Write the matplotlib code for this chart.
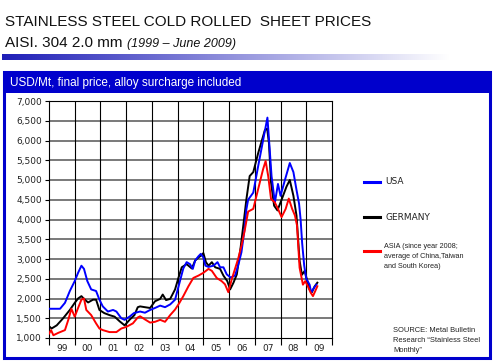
import matplotlib
matplotlib.use("Agg")
import matplotlib.pyplot as plt
import numpy as np
from matplotlib.patches import Rectangle
from matplotlib.lines import Line2D

# ---------------- data ----------------
usa_t = [1999.0, 1999.43, 1999.62, 1999.81, 2000.0, 2000.13, 2000.26, 2000.36, 2000.49, 2000.64,
         2000.83, 2000.96, 2001.09, 2001.29, 2001.49, 2001.62, 2001.81, 2001.94, 2002.13, 2002.3,
         2002.54, 2002.73, 2002.93, 2003.12, 2003.32, 2003.51, 2003.71, 2003.90, 2004.09, 2004.22,
         2004.35, 2004.48, 2004.59, 2004.68, 2004.81, 2004.90, 2005.0, 2005.08, 2005.2, 2005.39,
         2005.55, 2005.65, 2005.78, 2005.91, 2006.06, 2006.23, 2006.35, 2006.48, 2006.6, 2006.67,
         2006.74, 2006.94, 2007.13, 2007.32, 2007.49, 2007.58, 2007.65, 2007.78, 2007.9, 2008.0,
         2008.17, 2008.36, 2008.5, 2008.62, 2008.72, 2008.78, 2008.84, 2008.92, 2009.0, 2009.13,
         2009.19, 2009.3, 2009.39]
usa_v = [1740, 1740, 1890, 2190, 2440, 2650, 2830, 2750, 2440, 2230,
         2190, 1970, 1800, 1670, 1710, 1670, 1500, 1460, 1540, 1630,
         1670, 1640, 1710, 1760, 1820, 1780, 1850, 1970, 2440, 2760,
         2920, 2870, 2750, 2960, 3070, 3130, 3040, 2830, 2800, 2830,
         2920, 2790, 2790, 2610, 2530, 2580, 2830, 3170, 3750, 4250,
         4500, 4680, 5350, 6000, 6580, 5760, 5100, 4430, 4900, 4600,
         5000, 5430, 5200, 4750, 4400, 4000, 3400, 2830, 2500, 2350,
         2150, 2270, 2350]

ger_t = [1999.0, 1999.1, 1999.3, 1999.55, 1999.81, 2000.0, 2000.13, 2000.26, 2000.39, 2000.52,
         2000.71, 2000.83, 2000.96, 2001.15, 2001.35, 2001.55, 2001.75, 2001.94, 2002.13, 2002.32,
         2002.45, 2002.54, 2002.73, 2002.93, 2003.12, 2003.32, 2003.42, 2003.55, 2003.71, 2003.90,
         2004.03, 2004.16, 2004.35, 2004.55, 2004.68, 2004.81, 2004.94, 2005.0, 2005.1, 2005.2,
         2005.33, 2005.46, 2005.65, 2005.78, 2005.93, 2006.04, 2006.17, 2006.3, 2006.45, 2006.58,
         2006.67, 2006.8, 2006.94, 2007.13, 2007.39, 2007.48, 2007.55, 2007.63, 2007.75, 2007.88,
         2008.04, 2008.23, 2008.36, 2008.5, 2008.62, 2008.74, 2008.83, 2008.94, 2009.04, 2009.13,
         2009.22, 2009.32, 2009.43]
ger_v = [1300, 1240, 1320, 1500, 1710, 1890, 2000, 2060, 1970, 1900,
         1970, 1970, 1710, 1630, 1580, 1540, 1420, 1320, 1460, 1580,
         1780, 1800, 1780, 1760, 1930, 1990, 2100, 1960, 1990, 2230,
         2520, 2790, 2870, 2760, 2960, 3040, 3100, 3150, 2920, 2830,
         2920, 2790, 2750, 2580, 2440, 2230, 2400, 2610, 3300, 4000,
         4500, 5100, 5200, 5680, 6260, 6300, 5930, 4940, 4350, 4230,
         4500, 4830, 5000, 4600, 4100, 2960, 2600, 2700, 2440, 2230,
         2160, 2300, 2400]

asia_t = [1999.0, 1999.08, 1999.17, 1999.36, 1999.62, 1999.75, 1999.87, 2000.0, 2000.13, 2000.26,
          2000.36, 2000.45, 2000.64, 2000.83, 2000.96, 2001.09, 2001.35, 2001.62, 2001.81, 2002.0,
          2002.26, 2002.45, 2002.54, 2002.73, 2002.93, 2003.12, 2003.32, 2003.51, 2003.71, 2003.90,
          2004.07, 2004.22, 2004.42, 2004.61, 2004.81, 2005.0, 2005.2, 2005.33, 2005.52, 2005.71,
          2005.84, 2005.97, 2006.1, 2006.23, 2006.35, 2006.48, 2006.6, 2006.74, 2006.94, 2007.13,
          2007.32, 2007.42, 2007.52, 2007.63, 2007.78, 2007.9, 2008.04, 2008.2, 2008.32, 2008.45,
          2008.56, 2008.64, 2008.74, 2008.87, 2008.96, 2009.06, 2009.17, 2009.26, 2009.35, 2009.43]
asia_v = [1110, 1200, 1070, 1130, 1200, 1460, 1740, 1540, 1760, 1970,
          2000, 1710, 1580, 1370, 1240, 1200, 1150, 1150, 1240, 1280,
          1370, 1520, 1550, 1470, 1390, 1410, 1460, 1410, 1580, 1720,
          1890, 2060, 2310, 2520, 2580, 2650, 2750, 2700, 2520, 2440,
          2360, 2160, 2480, 2750, 3000, 3330, 3700, 4200, 4270, 4770,
          5270, 5480, 5100, 4520, 4430, 4270, 4060, 4270, 4530, 4270,
          4100, 3850, 2780, 2350, 2440, 2310, 2150, 2060, 2190, 2310]

year_labels = ['99', '00', '01', '02', '03', '04', '05', '06', '07', '08', '09']
y_ticks = list(range(1000, 7001, 500))

title1 = "STAINLESS STEEL COLD ROLLED  SHEET PRICES"
title2a = "AISI. 304 2.0 mm"
title2b = "(1999 \u2013 June 2009)"
header = "USD/Mt, final price, alloy surcharge included"

BLUE = '#0000CC'
W, H = 500, 363

fig = plt.figure(figsize=(W / 100, H / 100), dpi=100)
fig.patch.set_facecolor('white')

# background / decoration axes in pixel coordinates
bg = fig.add_axes([0, 0, 1, 1], zorder=0)
bg.set_xlim(0, W)
bg.set_ylim(H, 0)
bg.axis('off')

# gradient bar
grad = np.linspace(0, 1, 256)
c0 = np.array([0.12, 0.12, 0.72])
c1 = np.array([1.0, 1.0, 1.0])
img = c0[None, :] * (1 - grad[:, None]) + c1[None, :] * grad[:, None]
bg.imshow(img[None, :, :], extent=(2, 450, 60, 54), aspect='auto', interpolation='bilinear', zorder=1)

bg.text(5, 22.5, title1, fontsize=11, family='Liberation Sans', color='#111111', va='center', ha='left')
t2 = bg.text(5, 43, title2a, fontsize=11, family='Liberation Sans', color='#111111', va='center', ha='left')
bg.text(127, 43.5, title2b, fontsize=9, family='Liberation Sans', style='italic', color='#111111',
        va='center', ha='left')

# frame + header
bg.add_patch(Rectangle((3.5, 72), 486, 286, facecolor='white', edgecolor=BLUE, lw=2.2, zorder=2))
bg.add_patch(Rectangle((3.5, 72), 486, 21, facecolor=BLUE, edgecolor=BLUE, lw=0, zorder=3))
bg.text(10, 83, header, fontsize=8.5, family='Liberation Sans', color='white', va='center', ha='left', zorder=4)

# legend
leg_items = [(182, '#0000FF', 'USA'), (217, '#000000', 'GERMANY'), (251, '#FF0000', None)]
for yy, col, lab in leg_items:
    bg.add_line(Line2D([364, 380], [yy, yy], color=col, lw=2.2, zorder=5))
    if lab:
        bg.text(385, yy, lab, fontsize=6.5, family='DejaVu Sans', color='#222222', va='center', ha='left', zorder=5)
bg.text(384, 246, "ASIA (since year 2008;", fontsize=5.2, family='Liberation Sans', color='#222222', va='center', zorder=5)
bg.text(384, 256, "average of China,Taiwan", fontsize=5.2, family='Liberation Sans', color='#222222', va='center', zorder=5)
bg.text(384, 266, "and South Korea)", fontsize=5.2, family='Liberation Sans', color='#222222', va='center', zorder=5)

bg.text(393, 331, "SOURCE: Metal Bulletin", fontsize=5.4, family='Liberation Sans', color='#222222', va='center', zorder=5)
bg.text(393, 341, "Research \u201cStainless Steel", fontsize=5.4, family='Liberation Sans', color='#222222', va='center', zorder=5)
bg.text(393, 351, "Monthly\u201d", fontsize=5.4, family='Liberation Sans', color='#222222', va='center', zorder=5)

# main chart axes
ax = fig.add_axes([49 / W, 1 - 338 / H, 283 / W, 237 / H], zorder=3)
ax.set_facecolor('white')
ax.set_xlim(1999, 2010)
ax.set_ylim(1000, 7000)

for v in y_ticks[1:-1]:
    ax.axhline(v, color='#555555', lw=1.1, zorder=1)
for yr in range(2000, 2010):
    ax.axvline(yr, color='#000000', lw=0.8, zorder=1)

ax.plot(ger_t, ger_v, color='#000000', lw=1.4, zorder=3)
ax.plot(usa_t, usa_v, color='#0000FF', lw=1.4, zorder=4)
ax.plot(asia_t, asia_v, color='#FF0000', lw=1.4, zorder=5)

ax.set_yticks(y_ticks)
ax.set_yticklabels([f"{v:,}" for v in y_ticks])
ax.set_xticks(list(range(1999, 2011)))
ax.set_xticklabels([])
ax.set_xticks([y + 0.5 for y in range(1999, 2010)], minor=True)
ax.set_xticklabels(year_labels, minor=True)
ax.tick_params(axis='x', which='major', direction='out', length=5, width=0.8, color='black')
ax.tick_params(axis='x', which='minor', length=0, pad=4, labelsize=6.5, labelcolor='#222222')
ax.tick_params(axis='y', direction='out', length=3, width=0.8, pad=2, labelsize=6.5, labelcolor='#222222')
for lab in ax.get_yticklabels() + ax.get_xticklabels(minor=True):
    lab.set_family('DejaVu Sans')
for s in ax.spines.values():
    s.set_color('black')
    s.set_linewidth(0.8)

fig.savefig('out.png', dpi=100, facecolor='white')
